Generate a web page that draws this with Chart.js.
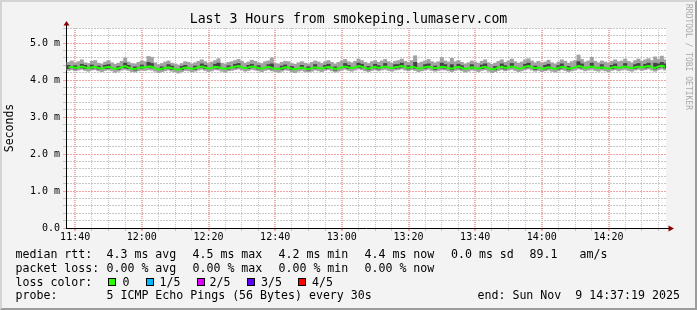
<!DOCTYPE html>
<html>
<head>
<meta charset="utf-8">
<title>Last 3 Hours from smokeping.lumaserv.com</title>
<script src="https://cdn.jsdelivr.net/npm/chart.js@4.4.1/dist/chart.umd.min.js"></script>
<style>
  html, body { margin: 0; padding: 0; }
  body { width: 697px; height: 310px; overflow: hidden; background: #f3f3f3; position: relative; }
  #c { position: absolute; left: 0; top: 0; }
  .txt { position: absolute; white-space: pre; color: #000; font-family: 'DejaVu Sans Mono', monospace; }
  .title { left: 0; width: 697px; top: 11px; text-align: center; font-size: 13.2px; line-height: 16px; }
  .lg { font-size: 11.6px; line-height: 14px; }
  .sq { position: absolute; width: 8px; height: 8px; box-sizing: border-box; border: 1px solid #000; top: 278px; }
  .credit { position: absolute; left: 684px; top: 4px; writing-mode: vertical-rl; font: 8px/8px 'DejaVu Sans Mono', monospace; color: #a9a9a9; white-space: pre; }
  .frame { position: absolute; left: 0; top: 0; width: 697px; height: 310px; box-sizing: border-box;
           border-top: 2px solid #d4d4d4; border-left: 2px solid #d4d4d4;
           border-right: 2px solid #9c9c9c; border-bottom: 2px solid #9c9c9c; pointer-events: none; }
</style>
</head>
<body>
<canvas id="c" width="697" height="310"></canvas>

<div class="txt title">Last 3 Hours from smokeping.lumaserv.com</div>

<div class="txt lg" style="left:15.5px;top:247px">median rtt:</div>
<div class="txt lg" style="left:106.5px;top:247px">4.3 ms avg</div>
<div class="txt lg" style="left:192.5px;top:247px">4.5 ms max</div>
<div class="txt lg" style="left:278.5px;top:247px">4.2 ms min</div>
<div class="txt lg" style="left:364.5px;top:247px">4.4 ms now</div>
<div class="txt lg" style="left:451px;top:247px">0.0 ms sd</div>
<div class="txt lg" style="left:529.5px;top:247px">89.1</div>
<div class="txt lg" style="left:579.5px;top:247px">am/s</div>

<div class="txt lg" style="left:15.5px;top:261px">packet loss:</div>
<div class="txt lg" style="left:106.5px;top:261px">0.00 % avg</div>
<div class="txt lg" style="left:192.5px;top:261px">0.00 % max</div>
<div class="txt lg" style="left:278.5px;top:261px">0.00 % min</div>
<div class="txt lg" style="left:364.5px;top:261px">0.00 % now</div>

<div class="txt lg" style="left:15.5px;top:275px">loss color:</div>
<div class="sq" style="left:108px;background:#26ff00"></div>
<div class="txt lg" style="left:122.5px;top:275px">0</div>
<div class="sq" style="left:146px;background:#00b8ff"></div>
<div class="txt lg" style="left:159.5px;top:275px">1/5</div>
<div class="sq" style="left:197px;background:#dd00ff"></div>
<div class="txt lg" style="left:209.5px;top:275px">2/5</div>
<div class="sq" style="left:247px;background:#5e00ff"></div>
<div class="txt lg" style="left:261px;top:275px">3/5</div>
<div class="sq" style="left:298px;background:#ff0000"></div>
<div class="txt lg" style="left:312px;top:275px">4/5</div>

<div class="txt lg" style="left:15.5px;top:288px">probe:</div>
<div class="txt lg" style="left:106.5px;top:288px">5 ICMP Echo Pings (56 Bytes) every 30s</div>
<div class="txt lg" style="left:477.5px;top:288px">end: Sun Nov  9 14:37:19 2025</div>

<div class="credit">RRDTOOL / TOBI OETIKER</div>
<div class="frame"></div>

<script>
// one sample per minute, first one at 11:38
const firstSample = '11:38';

// median rtt in ms
const median = [
  4.34, 4.36, 4.33, 4.35, 4.37, 4.34, 4.32, 4.35, 4.36, 4.33,
  4.31, 4.34, 4.36, 4.33, 4.30, 4.32, 4.35, 4.38, 4.34, 4.31,
  4.30, 4.33, 4.35, 4.34, 4.37, 4.36, 4.32, 4.29, 4.31, 4.33,
  4.35, 4.32, 4.30, 4.28, 4.31, 4.34, 4.33, 4.30, 4.32, 4.35,
  4.37, 4.34, 4.31, 4.33, 4.36, 4.35, 4.32, 4.30, 4.33, 4.34,
  4.36, 4.38, 4.35, 4.32, 4.34, 4.37, 4.35, 4.33, 4.31, 4.34,
  4.36, 4.33, 4.31, 4.30, 4.32, 4.35, 4.34, 4.31, 4.29, 4.32,
  4.34, 4.31, 4.30, 4.32, 4.35, 4.33, 4.31, 4.34, 4.36, 4.33,
  4.30, 4.32, 4.35, 4.37, 4.34, 4.32, 4.35, 4.38, 4.36, 4.33,
  4.31, 4.34, 4.36, 4.33, 4.35, 4.37, 4.34, 4.32, 4.35, 4.36,
  4.38, 4.35, 4.33, 4.36, 4.34, 4.31, 4.33, 4.35, 4.37, 4.34,
  4.32, 4.34, 4.36, 4.35, 4.33, 4.31, 4.34, 4.36, 4.33, 4.30,
  4.32, 4.35, 4.33, 4.31, 4.34, 4.36, 4.32, 4.29, 4.31, 4.34,
  4.36, 4.33, 4.35, 4.37, 4.34, 4.31, 4.33, 4.36, 4.38, 4.35,
  4.32, 4.34, 4.31, 4.33, 4.35, 4.32, 4.30, 4.33, 4.36, 4.34,
  4.31, 4.33, 4.35, 4.38, 4.36, 4.33, 4.35, 4.37, 4.34, 4.32,
  4.35, 4.33, 4.31, 4.34, 4.36, 4.33, 4.35, 4.37, 4.34, 4.32,
  4.35, 4.37, 4.34, 4.36, 4.38, 4.35, 4.33, 4.37, 4.39, 4.36
];

// light smoke: lowest and highest ping of each sample
const smokeLow = [
  4.26, 4.28, 4.25, 4.27, 4.29, 4.26, 4.24, 4.27, 4.28, 4.25,
  4.23, 4.26, 4.28, 4.25, 4.21, 4.24, 4.27, 4.29, 4.26, 4.23,
  4.22, 4.25, 4.27, 4.26, 4.28, 4.27, 4.24, 4.20, 4.23, 4.25,
  4.27, 4.24, 4.22, 4.19, 4.23, 4.26, 4.25, 4.22, 4.24, 4.27,
  4.29, 4.26, 4.23, 4.25, 4.28, 4.27, 4.24, 4.22, 4.25, 4.26,
  4.28, 4.30, 4.27, 4.24, 4.26, 4.29, 4.27, 4.25, 4.23, 4.26,
  4.28, 4.25, 4.23, 4.21, 4.24, 4.27, 4.26, 4.23, 4.20, 4.24,
  4.26, 4.23, 4.22, 4.24, 4.27, 4.25, 4.23, 4.26, 4.28, 4.25,
  4.22, 4.24, 4.27, 4.29, 4.26, 4.24, 4.27, 4.30, 4.28, 4.25,
  4.23, 4.26, 4.28, 4.25, 4.27, 4.29, 4.26, 4.24, 4.27, 4.28,
  4.30, 4.27, 4.25, 4.28, 4.26, 4.23, 4.25, 4.27, 4.29, 4.26,
  4.24, 4.26, 4.28, 4.27, 4.25, 4.23, 4.26, 4.28, 4.25, 4.22,
  4.24, 4.27, 4.25, 4.23, 4.26, 4.28, 4.24, 4.20, 4.23, 4.26,
  4.28, 4.25, 4.27, 4.29, 4.26, 4.23, 4.25, 4.28, 4.30, 4.27,
  4.24, 4.26, 4.23, 4.25, 4.27, 4.24, 4.22, 4.25, 4.28, 4.26,
  4.23, 4.25, 4.27, 4.30, 4.28, 4.25, 4.27, 4.29, 4.26, 4.24,
  4.27, 4.25, 4.23, 4.26, 4.28, 4.25, 4.27, 4.29, 4.26, 4.24,
  4.27, 4.29, 4.26, 4.28, 4.30, 4.27, 4.24, 4.28, 4.30, 4.27
];
const smokeHigh = [
  4.48, 4.52, 4.46, 4.50, 4.55, 4.47, 4.45, 4.51, 4.53, 4.46,
  4.44, 4.49, 4.53, 4.47, 4.43, 4.46, 4.51, 4.60, 4.49, 4.45,
  4.44, 4.48, 4.52, 4.50, 4.64, 4.62, 4.47, 4.42, 4.45, 4.49,
  4.52, 4.46, 4.44, 4.41, 4.45, 4.50, 4.48, 4.44, 4.47, 4.51,
  4.55, 4.50, 4.45, 4.49, 4.53, 4.58, 4.46, 4.44, 4.48, 4.50,
  4.53, 4.56, 4.51, 4.46, 4.49, 4.54, 4.51, 4.47, 4.45, 4.50,
  4.52, 4.60, 4.45, 4.44, 4.48, 4.51, 4.50, 4.45, 4.43, 4.47,
  4.50, 4.46, 4.44, 4.48, 4.52, 4.49, 4.45, 4.50, 4.53, 4.48,
  4.44, 4.48, 4.52, 4.56, 4.50, 4.47, 4.51, 4.57, 4.53, 4.48,
  4.45, 4.50, 4.53, 4.48, 4.52, 4.56, 4.50, 4.46, 4.51, 4.53,
  4.57, 4.51, 4.48, 4.53, 4.66, 4.46, 4.49, 4.52, 4.56, 4.50,
  4.47, 4.50, 4.61, 4.52, 4.49, 4.59, 4.50, 4.53, 4.48, 4.44,
  4.47, 4.52, 4.49, 4.46, 4.51, 4.55, 4.47, 4.43, 4.46, 4.51,
  4.55, 4.48, 4.52, 4.57, 4.50, 4.46, 4.49, 4.55, 4.58, 4.52,
  4.47, 4.51, 4.46, 4.49, 4.54, 4.47, 4.44, 4.49, 4.55, 4.51,
  4.46, 4.50, 4.53, 4.68, 4.56, 4.49, 4.52, 4.62, 4.51, 4.47,
  4.52, 4.49, 4.46, 4.51, 4.55, 4.50, 4.52, 4.57, 4.51, 4.47,
  4.53, 4.57, 4.51, 4.55, 4.58, 4.53, 4.63, 4.56, 4.65, 4.55
];

// dark smoke where most pings cluster: [sample index, low, high]
const darkSmoke = [
  [0, 4.31, 4.40], [2, 4.30, 4.39], [4, 4.33, 4.43], [5, 4.31, 4.40], [7, 4.32, 4.41],
  [9, 4.30, 4.38], [11, 4.31, 4.40], [12, 4.32, 4.42], [15, 4.29, 4.37], [17, 4.33, 4.46],
  [18, 4.31, 4.40], [20, 4.27, 4.36], [22, 4.32, 4.41], [24, 4.34, 4.48], [25, 4.33, 4.45],
  [28, 4.28, 4.36], [30, 4.32, 4.42], [31, 4.29, 4.38], [34, 4.28, 4.37], [35, 4.31, 4.40],
  [38, 4.29, 4.38], [40, 4.34, 4.44], [41, 4.31, 4.40], [44, 4.33, 4.43], [45, 4.32, 4.46],
  [48, 4.30, 4.39], [50, 4.33, 4.43], [51, 4.35, 4.45], [54, 4.31, 4.40], [55, 4.34, 4.43],
  [57, 4.30, 4.39], [60, 4.33, 4.42], [61, 4.30, 4.44], [64, 4.29, 4.38], [65, 4.32, 4.41],
  [67, 4.28, 4.37], [70, 4.31, 4.40], [72, 4.27, 4.36], [74, 4.32, 4.42], [77, 4.31, 4.40],
  [78, 4.33, 4.43], [80, 4.27, 4.36], [83, 4.34, 4.45], [84, 4.31, 4.40], [87, 4.35, 4.46],
  [88, 4.33, 4.43], [90, 4.28, 4.37], [92, 4.33, 4.43], [93, 4.30, 4.39], [95, 4.34, 4.45],
  [98, 4.32, 4.42], [99, 4.33, 4.42], [100, 4.35, 4.46], [102, 4.30, 4.39], [104, 4.31, 4.48],
  [107, 4.32, 4.42], [108, 4.34, 4.44], [110, 4.29, 4.38], [112, 4.33, 4.46], [113, 4.32, 4.42],
  [115, 4.28, 4.42], [117, 4.33, 4.43], [118, 4.30, 4.39], [121, 4.32, 4.42], [124, 4.31, 4.41],
  [125, 4.33, 4.44], [128, 4.28, 4.37], [130, 4.33, 4.44], [131, 4.30, 4.39], [133, 4.34, 4.45],
  [137, 4.33, 4.43], [138, 4.35, 4.46], [140, 4.29, 4.38], [143, 4.30, 4.40], [144, 4.32, 4.43],
  [147, 4.30, 4.39], [148, 4.33, 4.44], [150, 4.28, 4.37], [153, 4.35, 4.50], [154, 4.33, 4.44],
  [157, 4.34, 4.46], [160, 4.32, 4.42], [163, 4.31, 4.40], [164, 4.33, 4.44], [167, 4.34, 4.45],
  [170, 4.32, 4.42], [171, 4.34, 4.45], [173, 4.33, 4.43], [174, 4.35, 4.46], [176, 4.30, 4.46],
  [177, 4.34, 4.44], [178, 4.36, 4.48], [179, 4.33, 4.44]
];

// axis labels
const timeLabels = ['11:40', '12:00', '12:20', '12:40', '13:00', '13:20', '13:40', '14:00', '14:20'];
const yLabels = ['0.0', '1.0 m', '2.0 m', '3.0 m', '4.0 m', '5.0 m'];
const yLastGrid = 5.4;
const yMax = 5.41;

const FONT = 'DejaVu Sans Mono';
const MINOR = '#c6c6c6';
const MAJOR_X = '#f5aaaa';
const MAJOR_Y = '#f5a4a4';

const toMin = s => { const p = s.split(':'); return +p[0] * 60 + +p[1]; };
const fmtMin = m => String(Math.floor(m / 60)).padStart(2, '0') + ':' + String(m % 60).padStart(2, '0');

const t0 = toMin(firstSample);
const axisMin = t0 - 0.75;         // graph covers the last 3 hours
const axisMax = axisMin + 180;
const majorX = timeLabels.map(toMin);

const xTicks = [];
for (let m = Math.ceil(axisMin / 5) * 5; m <= axisMax; m += 5) xTicks.push(m);
const yTicks = [];
for (let k = 0; k <= Math.round(yLastGrid * 5); k++) yTicks.push(k / 5);

const isWhole = v => Math.abs(v - Math.round(v)) < 1e-6;
const isMajorX = v => majorX.some(m => Math.abs(m - v) < 1e-6);

const medianPts = median.map((v, i) => ({ x: t0 + i, y: v }));
const smokePts = smokeLow.map((v, i) => ({ x: t0 + i, y: [v, smokeHigh[i]] }));
const darkPts = darkSmoke.map(d => ({ x: t0 + d[0], y: [d[1], d[2]] }));

// white canvas behind the grid plus the little rrdtool arrows
const framePlugin = {
  id: 'frame',
  beforeDraw(chart) {
    const { ctx, chartArea: a } = chart;
    ctx.save();
    ctx.fillStyle = '#ffffff';
    ctx.fillRect(a.left, a.top, a.right - a.left, a.bottom - a.top);
    ctx.restore();
  },
  afterDraw(chart) {
    const { ctx, chartArea: a } = chart;
    const lx = Math.round(a.left) + 0.5;
    const by = Math.round(a.bottom) + 0.5;
    ctx.save();
    ctx.strokeStyle = '#000';
    ctx.lineWidth = 1;
    ctx.beginPath();
    ctx.moveTo(lx, a.top); ctx.lineTo(lx, a.top - 4);
    ctx.moveTo(a.right, by); ctx.lineTo(a.right + 3, by);
    ctx.stroke();
    ctx.fillStyle = '#8b0000';
    ctx.beginPath();
    ctx.moveTo(lx, a.top - 7); ctx.lineTo(lx - 3, a.top - 2.5); ctx.lineTo(lx + 3, a.top - 2.5);
    ctx.closePath(); ctx.fill();
    ctx.beginPath();
    ctx.moveTo(a.right + 8, by); ctx.lineTo(a.right + 2.5, by - 3); ctx.lineTo(a.right + 2.5, by + 3);
    ctx.closePath(); ctx.fill();
    ctx.restore();
  }
};

new Chart(document.getElementById('c'), {
  data: {
    datasets: [
      { type: 'line', label: 'median rtt', data: medianPts, order: 0,
        borderColor: '#22ff00', borderWidth: 2, pointRadius: 0, tension: 0 },
      { type: 'bar', label: 'dark smoke', data: darkPts, order: 1, grouped: false,
        backgroundColor: '#444444', barPercentage: 1, categoryPercentage: 1 },
      { type: 'bar', label: 'smoke', data: smokePts, order: 2, grouped: false,
        backgroundColor: '#a2a2a2', barPercentage: 1, categoryPercentage: 1 }
    ]
  },
  options: {
    responsive: false,
    animation: false,
    devicePixelRatio: 1,
    layout: { padding: { left: 0, right: 31, top: 28, bottom: 0 } },
    plugins: { legend: { display: false }, tooltip: { enabled: false } },
    scales: {
      x: {
        type: 'linear', min: axisMin, max: axisMax, offset: false,
        afterBuildTicks: s => { s.ticks = xTicks.map(v => ({ value: v })); },
        afterFit: s => { s.height = 82; },
        grid: { offset: false, tickLength: 3,
                lineWidth: c => (c.tick && isMajorX(c.tick.value)) ? 2 : 1,
                color: c => (c.tick && isMajorX(c.tick.value)) ? MAJOR_X : MINOR },
        border: { color: '#000', width: 1, dash: [1, 1] },
        ticks: { autoSkip: false, maxRotation: 0, padding: 0, color: '#000',
                 font: { family: FONT, size: 10 },
                 callback: v => isMajorX(v) ? fmtMin(Math.round(v)) : '' }
      },
      y: {
        type: 'linear', min: 0, max: yMax,
        afterBuildTicks: s => { s.ticks = yTicks.map(v => ({ value: v })); },
        afterFit: s => { s.width = 66; },
        grid: { tickLength: 3, lineWidth: 1,
                color: c => (c.tick && isWhole(c.tick.value)) ? MAJOR_Y : MINOR },
        border: { color: '#000', width: 1, dash: [2, 1], dashOffset: 0 },
        ticks: { autoSkip: false, padding: 3, color: '#000', font: { family: FONT, size: 10 },
                 callback: v => isWhole(v) ? yLabels[Math.round(v)] : '' },
        title: { display: true, text: 'Seconds', color: '#000',
                 font: { family: FONT, size: 11.5 }, padding: { top: 3, bottom: 0 } }
      }
    }
  },
  plugins: [framePlugin]
});
</script>
</body>
</html>
